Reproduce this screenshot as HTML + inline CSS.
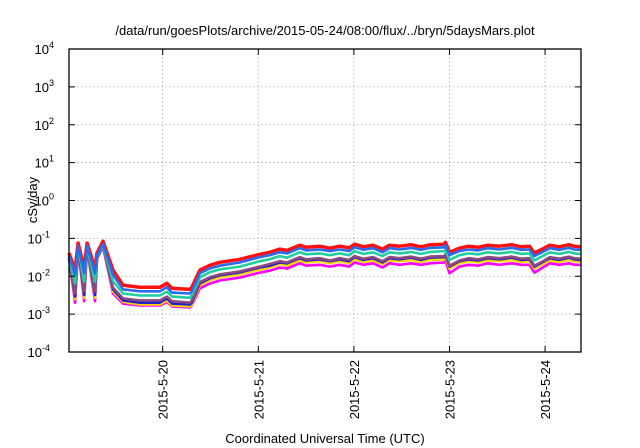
<!DOCTYPE html>
<html><head><meta charset="utf-8"><style>
html,body{margin:0;padding:0;background:#fff;}
svg{display:block;font-family:"Liberation Sans",Arial,sans-serif;}
</style></head><body>
<svg id="chart" width="640" height="448" viewBox="0 0 640 448" xmlns="http://www.w3.org/2000/svg">
<text x="325" y="35" font-size="13" text-anchor="middle" fill="#000">/data/run/goesPlots/archive/2015-05-24/08:00/flux/../bryn/5daysMars.plot</text>
<text transform="translate(37,200) rotate(-90)" font-size="13" text-anchor="middle">cSv/day</text>
<text x="325" y="443" font-size="13" text-anchor="middle">Coordinated Universal Time (UTC)</text>
<g id="grid"></g>
<g id="series"></g>
<g id="axes"></g>
</svg>
<script>
const yTickExps = [4,3,2,1,0,-1,-2,-3,-4];
const xTickDays = [1,2,3,4,5];
const xTickLabels = ["2015-5-20","2015-5-21","2015-5-22","2015-5-23","2015-5-24"];
const times = [0.02,0.084,0.115,0.178,0.209,0.292,0.313,0.376,0.48,0.585,0.762,0.971,1.044,1.097,1.285,1.305,1.389,1.493,1.598,1.807,2.016,2.12,2.225,2.3,2.433,2.5,2.642,2.75,2.851,2.95,3.008,3.1,3.2,3.3,3.373,3.478,3.6,3.7,3.8,3.948,3.958,4.0,4.104,4.2,4.3,4.4,4.522,4.65,4.75,4.836,4.888,4.992,5.05,5.149,5.25,5.305,5.37];
const magenta = [0.029,0.002,0.054,0.0022,0.054,0.0022,0.029,0.060,0.0035,0.0019,0.0017,0.0017,0.0021,0.0016,0.0015,0.0017,0.0048,0.0064,0.0077,0.0092,0.0125,0.014,0.017,0.016,0.022,0.019,0.020,0.018,0.020,0.018,0.023,0.020,0.022,0.017,0.022,0.020,0.022,0.020,0.022,0.023,0.026,0.012,0.018,0.020,0.019,0.022,0.020,0.022,0.020,0.020,0.0125,0.018,0.022,0.020,0.022,0.020,0.020];
const yellow = [0.030,0.0025,0.055,0.0027,0.055,0.0027,0.030,0.062,0.004,0.0021,0.0018,0.0018,0.0023,0.0017,0.0016,0.0018,0.0058,0.0078,0.0094,0.0112,0.015,0.017,0.021,0.019,0.026,0.023,0.025,0.022,0.025,0.022,0.028,0.024,0.026,0.021,0.026,0.025,0.027,0.024,0.027,0.028,0.032,0.016,0.022,0.025,0.023,0.026,0.025,0.027,0.024,0.025,0.016,0.022,0.026,0.024,0.027,0.025,0.024];
const darkblue = [0.030,0.0029,0.056,0.0032,0.056,0.0032,0.030,0.063,0.0045,0.0023,0.002,0.002,0.0026,0.0019,0.0018,0.002,0.0065,0.0088,0.0105,0.0126,0.017,0.019,0.023,0.022,0.030,0.026,0.028,0.025,0.028,0.025,0.032,0.027,0.030,0.023,0.030,0.028,0.031,0.027,0.031,0.032,0.036,0.018,0.025,0.028,0.026,0.030,0.028,0.031,0.027,0.028,0.018,0.025,0.030,0.027,0.031,0.028,0.027];
const purple = [0.031,0.0036,0.057,0.004,0.057,0.004,0.031,0.064,0.005,0.0026,0.0023,0.0023,0.0029,0.0022,0.002,0.0023,0.007,0.0094,0.0112,0.0134,0.018,0.021,0.025,0.023,0.032,0.028,0.030,0.026,0.030,0.027,0.034,0.029,0.032,0.025,0.032,0.030,0.033,0.029,0.033,0.034,0.038,0.019,0.026,0.030,0.028,0.032,0.030,0.033,0.029,0.030,0.019,0.026,0.032,0.029,0.033,0.030,0.029];
const teal = [0.033,0.0065,0.060,0.0072,0.060,0.0072,0.033,0.067,0.0075,0.0035,0.0031,0.0031,0.0039,0.0029,0.0027,0.0031,0.0094,0.0127,0.0152,0.018,0.025,0.028,0.034,0.031,0.043,0.038,0.040,0.036,0.040,0.036,0.046,0.039,0.043,0.034,0.043,0.040,0.044,0.039,0.044,0.046,0.051,0.027,0.036,0.040,0.038,0.043,0.040,0.044,0.039,0.040,0.026,0.036,0.043,0.039,0.044,0.040,0.039];
const blue = [0.035,0.011,0.064,0.012,0.064,0.012,0.035,0.071,0.011,0.0045,0.0040,0.0040,0.0051,0.0037,0.0035,0.0040,0.012,0.016,0.019,0.023,0.032,0.036,0.043,0.040,0.055,0.048,0.051,0.046,0.051,0.046,0.058,0.050,0.055,0.043,0.055,0.051,0.056,0.050,0.056,0.058,0.066,0.036,0.046,0.051,0.048,0.055,0.051,0.056,0.050,0.051,0.034,0.046,0.055,0.050,0.056,0.051,0.050];
const red = [0.041,0.0145,0.075,0.016,0.075,0.016,0.041,0.084,0.0145,0.0058,0.0051,0.0051,0.0065,0.0048,0.0045,0.0051,0.0145,0.0195,0.0234,0.028,0.038,0.043,0.052,0.048,0.066,0.058,0.062,0.055,0.062,0.056,0.070,0.060,0.066,0.052,0.066,0.062,0.068,0.060,0.068,0.070,0.079,0.043,0.055,0.062,0.058,0.066,0.062,0.068,0.060,0.062,0.041,0.055,0.066,0.060,0.068,0.062,0.060];

const NS='http://www.w3.org/2000/svg';
const L=69,R=581,T=49,B=352;
const xMin=0.02,xMax=5.376;
function xs(d){return L+(d-xMin)/(xMax-xMin)*(R-L);}
function ys(v){return B-(Math.log10(v)+4)/8*(B-T);}
function mk(tag,attrs,parent){const e=document.createElementNS(NS,tag);for(const k in attrs)e.setAttribute(k,attrs[k]);parent.appendChild(e);return e;}
const grid=document.getElementById('grid'),axes=document.getElementById('axes'),ser=document.getElementById('series');

yTickExps.forEach(ex=>{
  const y=ys(Math.pow(10,ex));
  if(ex>-4&&ex<4){const g=mk('line',{x1:L,x2:R,y1:y,y2:y,stroke:'#aaa','stroke-width':0.8,'stroke-dasharray':'1.5,2.5'},grid);
  
  }
  const t1=mk('line',{x1:L,x2:L+6,y1:y,y2:y,stroke:'#000','stroke-width':1},axes);
  
  
  const t2=mk('line',{x1:R-6,x2:R,y1:y,y2:y,stroke:'#000','stroke-width':1},axes);
  
  
  const tx=mk('text',{x:55,y:y+5,'font-size':13,'text-anchor':'end'},axes);
  
  
  tx.textContent='10';
  const sp=mk('tspan',{dy:-6,'font-size':9},tx);sp.textContent=String(ex);
  tx.setAttribute('x',String(ex).length>1?50:54);
});
xTickDays.forEach((d,i)=>{
  const x=xs(d);
  const g=mk('line',{x1:x,x2:x,y1:T,y2:B,stroke:'#aaa','stroke-width':0.8,'stroke-dasharray':'1.5,2.5'},grid);
  
  
  const t1=mk('line',{x1:x,x2:x,y1:B-6,y2:B,stroke:'#000','stroke-width':1},axes);
  
  
  const t2=mk('line',{x1:x,x2:x,y1:T,y2:T+6,stroke:'#000','stroke-width':1},axes);
  
  
  const tx=mk('text',{transform:`translate(${x+5},360) rotate(-90)`,'font-size':13,'text-anchor':'end'},axes);
  
  
  tx.textContent=xTickLabels[i];
});
const frame=mk('rect',{x:L,y:T,width:R-L,height:B-T,fill:'none',stroke:'#000','stroke-width':1.3},axes);



const seriesList=[[magenta,'#ff00ff','series-magenta'],[yellow,'#ffd400','series-yellow'],[darkblue,'#2222cc','series-dark-blue'],[purple,'#8e4a80','series-purple'],[teal,'#1fcfa0','series-teal'],[red,'#ff1010','series-red'],[blue,'#2a6cf0','series-blue']];
seriesList.forEach(([vals,col,name])=>{
  const pts=times.map((t,i)=>xs(t).toFixed(1)+','+ys(vals[i]).toFixed(1)).join(' ');
  const p=mk('polyline',{points:pts,fill:'none',stroke:col,'stroke-width':name==='series-red'?3.5:2.6,'stroke-linejoin':'round'},ser);
  
  
});
</script>
</body></html>
